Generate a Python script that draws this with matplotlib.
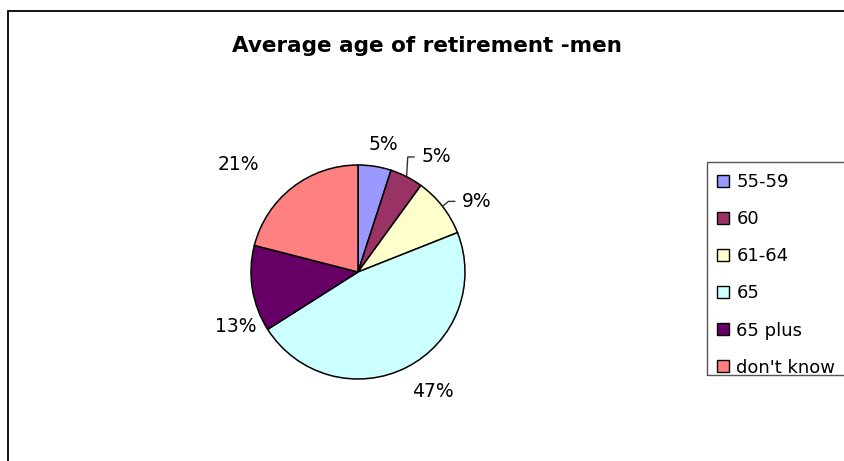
import numpy as np
import matplotlib
matplotlib.use("Agg")
import matplotlib.pyplot as plt
from matplotlib.patches import Rectangle

# ---- data ----
categories = ["55-59", "60", "61-64", "65", "65 plus", "don't know"]
values = [5, 5, 9, 47, 13, 21]
colors = ["#9999FF", "#993366", "#FFFFCC", "#CCFFFF", "#660066", "#FF8080"]
title = "Average age of retirement -men"

# label positions (in pie-radius units, relative to pie centre) - layout
label_xy = [(0.24, 1.19), (0.73, 1.075), (1.11, 0.66),
            (0.70, -1.12), (-1.14, -0.51), (-1.12, 1.00)]
leader = [False, True, True, False, False, False]

W, H = 845, 461
fig = plt.figure(figsize=(W / 100, H / 100), dpi=100)
plt.rcParams['font.family'] = ['DejaVu Sans']

# pie axes: centre (358, 272) px, radius 107 px
cx, cy, r = 358, 272, 107
ax = fig.add_axes([(cx - 2 * r) / W, (H - cy - 2 * r) / H, 4 * r / W, 4 * r / H])
wedges, _ = ax.pie(values, colors=colors, startangle=90, counterclock=False,
                   wedgeprops=dict(edgecolor="black", linewidth=1.1))
ax.set_xlim(-2, 2)
ax.set_ylim(-2, 2)
ax.set_aspect('auto')
ax.axis('off')

total = sum(values)
for w, v, (lx, ly), ld in zip(wedges, values, label_xy, leader):
    ax.text(lx, ly, f"{round(100 * v / total)}%", ha='center', va='center',
            fontsize=13.5, color='black')
    if ld:
        th = np.deg2rad((w.theta1 + w.theta2) / 2)
        sx, sy = np.cos(th), np.sin(th)
        ex = lx - 0.2
        ax.plot([sx, ex - 0.065, ex], [sy, ly, ly], color='#333333', lw=1.0,
                solid_capstyle='butt')

fig.text(427 / W, 1 - 46 / H, title, ha='center', va='center',
         fontsize=15.5, fontweight='bold')

leg = ax.legend(wedges, categories, loc='upper left',
                bbox_to_anchor=(717 / W, 1 - 173 / H), bbox_transform=fig.transFigure,
                fontsize=13, frameon=False, borderpad=0,
                labelspacing=1.06, handlelength=0.66, handleheight=0.66,
                handletextpad=0.42, borderaxespad=0)
for h in leg.legend_handles:
    h.set_linewidth(1.0)

# legend frame (clipped by the right edge, as in the reference)
fig.add_artist(Rectangle((707.5 / W, 1 - 375 / H), 0.3, (375 - 162) / H,
                         transform=fig.transFigure, fill=False,
                         edgecolor='#555555', linewidth=1.0))

# chart border
fig.add_artist(Rectangle((8.5 / W, -0.1), 1.2, 1 - 11.5 / H + 0.1,
                         transform=fig.transFigure, fill=False,
                         edgecolor='black', linewidth=1.3))

fig.savefig("out.png", dpi=100)
